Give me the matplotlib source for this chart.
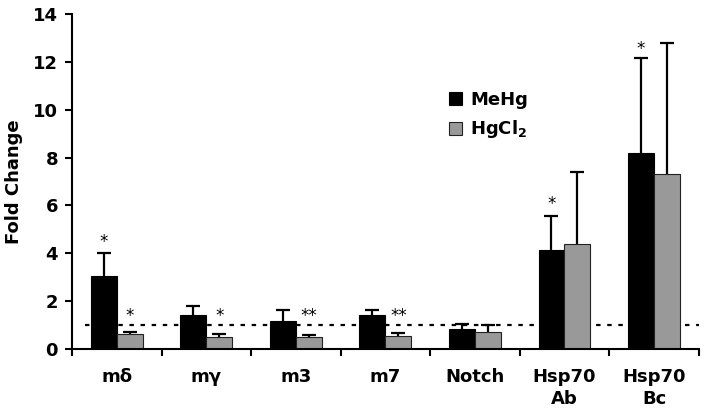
import matplotlib
matplotlib.use("Agg")
import matplotlib.pyplot as plt
import numpy as np

categories = ["m\u03b4", "m\u03b3", "m3", "m7", "Notch", "Hsp70\nAb", "Hsp70\nBc"]
mehg = [3.05, 1.42, 1.18, 1.42, 0.82, 4.15, 8.18]
mehg_err = [0.97, 0.39, 0.44, 0.21, 0.22, 1.42, 3.98]
hgcl2 = [0.61, 0.50, 0.50, 0.54, 0.70, 4.40, 7.31]
hgcl2_err = [0.10, 0.14, 0.10, 0.13, 0.29, 2.98, 5.49]

# significance marks and their heights
sig_mehg = ["*", "", "", "", "", "*", "*"]
sig_mehg_y = [4.45, 0, 0, 0, 0, 6.05, 12.55]
sig_hgcl2 = ["*", "*", "**", "**", "", "", ""]
sig_hgcl2_y = [1.38, 1.38, 1.38, 1.38, 0, 0, 0]

fig = plt.figure(figsize=(7.08, 4.11), dpi=100)
ax = fig.add_axes([0.1017, 0.1509, 0.8853, 0.8151])

x = np.arange(len(categories))
w = 0.29
ekw = dict(ecolor="black", elinewidth=1.6, capsize=5, capthick=1.6)

ax.axhline(1.0, xmin=0.02, xmax=1.0, color="black", lw=1.6,
           linestyle=(0, (2, 3)), zorder=1)

b1 = ax.bar(x - w / 2, mehg, w, color="black", edgecolor="black", lw=0.8,
            yerr=[np.zeros(len(mehg)), mehg_err], error_kw=ekw, zorder=2,
            label="MeHg")
b2 = ax.bar(x + w / 2, hgcl2, w, color="#999999", edgecolor="#222222", lw=0.8,
            yerr=[np.zeros(len(hgcl2)), hgcl2_err], error_kw=ekw, zorder=2,
            label="HgCl$_\\mathbf{2}$")
# only the upper caps
for b in (b1, b2):
    b.errorbar.lines[1][0].set_visible(False)

for i in range(len(categories)):
    if sig_mehg[i]:
        ax.text(x[i] - w / 2, sig_mehg_y[i], sig_mehg[i], ha="center",
                va="center", fontsize=12)
    if sig_hgcl2[i]:
        ax.text(x[i] + w / 2, sig_hgcl2_y[i], sig_hgcl2[i], ha="center",
                va="center", fontsize=12)

ax.set_xlim(-0.5, len(categories) - 0.5)
ax.set_ylim(0, 14)
ax.set_yticks(np.arange(0, 15, 2))
ax.set_yticklabels([str(v) for v in range(0, 15, 2)], fontsize=13,
                   fontweight="bold")
ax.set_xticks(x)
ax.set_xticklabels(categories, fontsize=13, fontweight="bold", linespacing=1.25)
ax.set_xticks(np.arange(-0.5, len(categories)), minor=True)
ax.tick_params(axis="x", which="major", length=0, pad=14)
ax.tick_params(axis="x", which="minor", length=5, width=1.5, direction="out")
ax.tick_params(axis="y", length=5, width=1.5, direction="out", pad=5)

for s in ["top", "right"]:
    ax.spines[s].set_visible(False)
for s in ["left", "bottom"]:
    ax.spines[s].set_linewidth(1.5)

ax.set_ylabel("Fold Change", fontsize=13, fontweight="bold", labelpad=7)

ax.legend(loc="upper left", bbox_to_anchor=(0.575, 0.82), frameon=False,
          prop={"size": 13, "weight": "bold"}, handlelength=0.75,
          handleheight=0.75, handletextpad=0.45, labelspacing=0.55)

fig.savefig("out.png", dpi=100)
